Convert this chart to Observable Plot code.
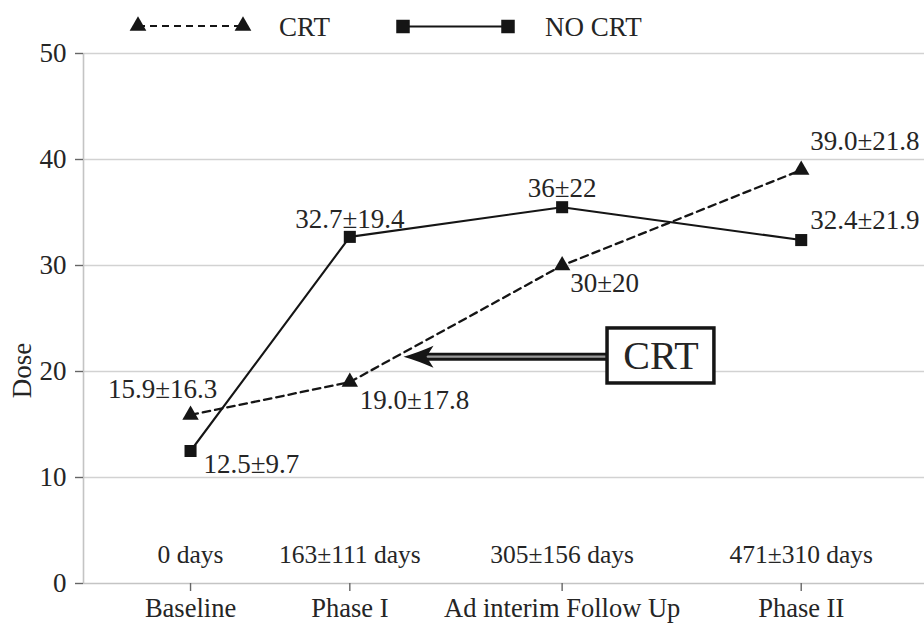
<!DOCTYPE html>
<html>
<head>
<meta charset="utf-8">
<script src="https://cdn.jsdelivr.net/npm/d3@7"></script>
<script src="https://cdn.jsdelivr.net/npm/@observablehq/plot@0.6"></script>
<style>
  html, body { margin: 0; padding: 0; background: #fff; }
  #chart { width: 924px; height: 624px; position: relative; overflow: hidden; font-family: "Liberation Serif", serif; color: #222; }
  #legend { height: 44px; }
  #legend svg, #plot svg { display: block; }
</style>
</head>
<body>
<div id="chart"><div id="legend"></div><div id="plot"></div></div>
<script>
// ---- data ----
const visits = ["Baseline", "Phase I", "Ad interim Follow Up", "Phase II"];
const visitPos = [0, 1, 2.333, 3.834];
const followUpDays = ["0 days", "163±111 days", "305±156 days", "471±310 days"];
const crtMean = [15.9, 19.0, 30, 39.0];
const crtLabels = ["15.9±16.3", "19.0±17.8", "30±20", "39.0±21.8"];
const noCrtMean = [12.5, 32.7, 35.5, 32.4];
const noCrtLabels = ["12.5±9.7", "32.7±19.4", "36±22", "32.4±21.9"];
const seriesNames = ["CRT", "NO CRT"];
const yTicks = [0, 10, 20, 30, 40, 50];
const yLabel = "Dose";
const calloutText = "CRT";
const callout = { tipX: 1.337, tipY: 21.4, boxX1: 2.618, boxX2: 3.289, boxY1: 18.87, boxY2: 24.06 };

// ---- tables built from the arrays ----
const crtRows = visits.map((v, i) => ({ visit: v, pos: visitPos[i], dose: crtMean[i], label: crtLabels[i] }));
const noCrtRows = visits.map((v, i) => ({ visit: v, pos: visitPos[i], dose: noCrtMean[i], label: noCrtLabels[i] }));
const dayRows = visits.map((v, i) => ({ pos: visitPos[i], text: followUpDays[i] }));

// label placement (style only)
const crtPlace = [
  { dx: -28, dy: -26, a: "middle" },
  { dx: 10, dy: 18, a: "start" },
  { dx: 8, dy: 18, a: "start" },
  { dx: 9, dy: -29, a: "start" }
];
const noCrtPlace = [
  { dx: 13, dy: 13.5, a: "start" },
  { dx: 0, dy: -17.5, a: "middle" },
  { dx: 0, dy: -19, a: "middle" },
  { dx: 9, dy: -19.5, a: "start" }
];

const INK = "#151515";
const TXT = "#252525";
const FONT = "Liberation Serif";

// ---- legend (HTML above the plot) ----
(function () {
  const svg = d3.select("#legend").append("svg").attr("width", 924).attr("height", 44);
  const cy = 26;
  const tri = d3.symbol(d3.symbolTriangle, Math.PI * 6.2 * 6.2)();
  const sq = d3.symbol(d3.symbolSquare, 13.5 * 13.5)();
  svg.append("line").attr("x1", 138).attr("x2", 243).attr("y1", cy).attr("y2", cy)
    .attr("stroke", INK).attr("stroke-width", 2.2).attr("stroke-dasharray", "7,5");
  [138, 243].forEach(x => svg.append("path").attr("d", tri).attr("transform", `translate(${x},${cy})`).attr("fill", INK));
  svg.append("text").attr("x", 279).attr("y", 36).attr("font-family", FONT).attr("font-size", 27).attr("fill", TXT).text(seriesNames[0]);
  svg.append("line").attr("x1", 403).attr("x2", 508).attr("y1", cy + 0.5).attr("y2", cy + 0.5)
    .attr("stroke", INK).attr("stroke-width", 2.2);
  [403, 508].forEach(x => svg.append("path").attr("d", sq).attr("transform", `translate(${x},${cy + 0.5})`).attr("fill", INK));
  svg.append("text").attr("x", 545).attr("y", 36).attr("font-family", FONT).attr("font-size", 27).attr("fill", TXT).text(seriesNames[1]);
})();

// ---- arrowhead symbol (LaTeX-like) ----
const arrowHead = {
  draw(ctx) {
    ctx.moveTo(0, 0);
    ctx.quadraticCurveTo(14, -4, 30, -11);
    ctx.lineTo(23, 0);
    ctx.lineTo(30, 11);
    ctx.quadraticCurveTo(14, 4, 0, 0);
    ctx.closePath();
  }
};

const xDomain = [-0.672, 4.608];

const labelMarks = [];
crtRows.forEach((r, i) => labelMarks.push(Plot.text([r], {
  x: "pos", y: "dose", text: "label", dx: crtPlace[i].dx, dy: crtPlace[i].dy,
  textAnchor: crtPlace[i].a, fontSize: 27, fill: TXT
})));
noCrtRows.forEach((r, i) => labelMarks.push(Plot.text([r], {
  x: "pos", y: "dose", text: "label", dx: noCrtPlace[i].dx, dy: noCrtPlace[i].dy,
  textAnchor: noCrtPlace[i].a, fontSize: 27, fill: TXT
})));

const chart = Plot.plot({
  width: 924,
  height: 580,
  marginTop: 9,
  marginBottom: 41,
  marginLeft: 83,
  marginRight: 0,
  x: { type: "linear", domain: xDomain, axis: null },
  y: { domain: [0, 50], axis: null },
  style: { fontFamily: FONT, fontSize: "27px", color: TXT, background: "white", overflow: "visible" },
  marks: [
    Plot.gridY(yTicks.filter(d => d > 0), { stroke: "#d2d2d2", strokeOpacity: 1, strokeWidth: 1.6 }),
    Plot.ruleY([0], { stroke: "#c4c4c4", strokeWidth: 1.6 }),
    Plot.ruleX([xDomain[0]], { stroke: "#c4c4c4", strokeWidth: 1.6 }),
    Plot.axisY({ ticks: yTicks, tickSize: 8, tickPadding: 9, fontSize: 27, stroke: "#666", strokeWidth: 1.4, fill: TXT, label: null, tickFormat: d => String(d) }),
    Plot.axisX({ ticks: visitPos, tickSize: 8, tickPadding: 6.5, fontSize: 26.5, stroke: "#666", strokeWidth: 1.4, fill: TXT, label: null, tickFormat: d => visits[visitPos.indexOf(d)] }),
    Plot.text([yLabel], { frameAnchor: "left", y: () => 20.1, dx: -61, rotate: -90, textAnchor: "middle", lineAnchor: "middle", fontSize: 27, fill: TXT, text: d => d }),
    Plot.text(dayRows, { x: "pos", frameAnchor: "bottom", lineAnchor: "middle", dy: -28.5, text: "text", fontSize: 25.5, fill: TXT }),
    Plot.line(noCrtRows, { x: "pos", y: "dose", stroke: INK, strokeWidth: 2.1 }),
    Plot.line(crtRows, { x: "pos", y: "dose", stroke: INK, strokeWidth: 2.3, strokeDasharray: "7.5,5" }),
    Plot.dot(noCrtRows, { x: "pos", y: "dose", symbol: "square", r: 6.8, fill: INK, stroke: "none" }),
    Plot.dot(crtRows, { x: "pos", y: "dose", symbol: "triangle", r: 6.1, fill: INK, stroke: "none" }),
    ...labelMarks,
    // callout: double arrow + boxed label
    Plot.ruleY([callout], { y: "tipY", x1: d => d.tipX + 0.13, x2: "boxX1", stroke: INK, strokeWidth: 8 }),
    Plot.ruleY([callout], { y: "tipY", x1: d => d.tipX + 0.13, x2: "boxX1", stroke: "#9a9a9a", strokeWidth: 2.2 }),
    Plot.dot([callout], { x: "tipX", y: "tipY", symbol: arrowHead, fill: INK, stroke: "none" }),
    Plot.rect([callout], { x1: "boxX1", x2: "boxX2", y1: "boxY1", y2: "boxY2", fill: "white", stroke: INK, strokeWidth: 3.5 }),
    Plot.text([callout], { x: d => (d.boxX1 + d.boxX2) / 2, y: d => (d.boxY1 + d.boxY2) / 2, text: () => calloutText, fontSize: 40, fill: TXT })
  ]
});
document.getElementById("plot").appendChild(chart);
</script>
</body>
</html>
